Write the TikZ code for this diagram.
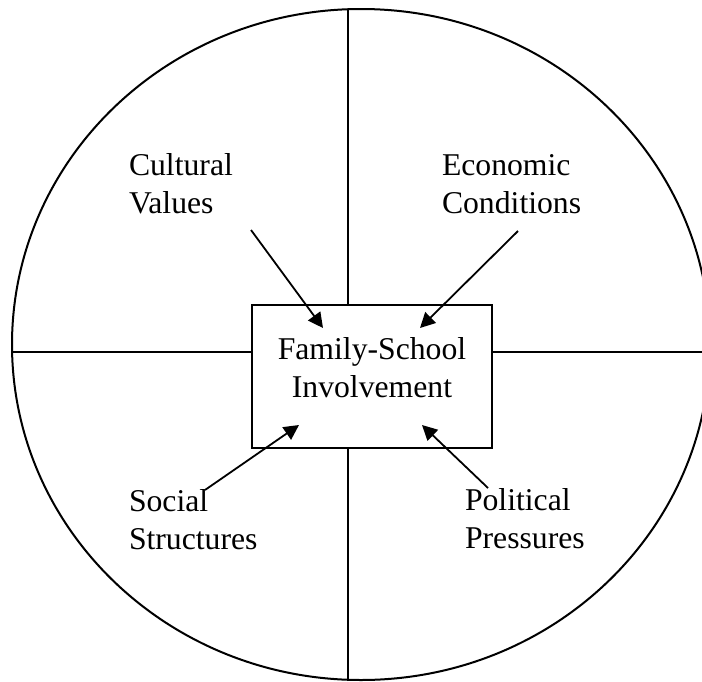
\documentclass[tikz,border=0pt]{standalone}
\usepackage{fontspec}
\setmainfont{Liberation Serif}
\usetikzlibrary{arrows.meta}
\begin{document}
\begin{tikzpicture}[x=1pt,y=-1pt,
  line width=2pt,
  txt/.style={font=\fontsize{31.7}{37.5}\selectfont, inner sep=0pt},
  lbl/.style={txt, align=left, anchor=base west},
  arr/.style={-{Triangle[length=15pt,width=15pt]}, line width=1.8pt}]
\useasboundingbox (0,0) rectangle (702,681);
\clip (0,0) rectangle (702,681);
\draw (361,344.5) ellipse [x radius=349, y radius=335.5];
\node[draw, minimum width=240pt, minimum height=143pt, inner sep=0pt, fill=white] (box) at (372,376.5) {};
\node[txt, align=center, anchor=base] (boxtxt) at (372,397) {Family-School\\Involvement};
\coordinate (top) at (348,9);
\coordinate (bot) at (348,681);
\coordinate (lft) at (12,352);
\coordinate (rgt) at (703,352);
\draw (top) -- (top |- box.north);
\draw (bot) -- (bot |- box.south);
\draw (lft) -- (lft -| box.west);
\draw (rgt) -- (rgt -| box.east);
\node[lbl] (cult) at (128,213) {Cultural\\Values};
\node[lbl] (econ) at (441,213) {Economic\\Conditions};
\node[lbl] (soc) at (128,549) {Social\\Structures};
\node[lbl] (pol) at (464,548) {Political\\Pressures};
\coordinate (c0) at (251,230); \coordinate (c1) at (323,328);
\coordinate (e0) at (518,231); \coordinate (e1) at (420,328);
\coordinate (s0) at (205,490); \coordinate (s1) at (299,425);
\coordinate (p0) at (488,488); \coordinate (p1) at (422,425);
\draw[arr] (c0) -- (c1);
\draw[arr] (e0) -- (e1);
\draw[arr] (s0) -- (s1);
\draw[arr] (p0) -- (p1);
\end{tikzpicture}
\end{document}
